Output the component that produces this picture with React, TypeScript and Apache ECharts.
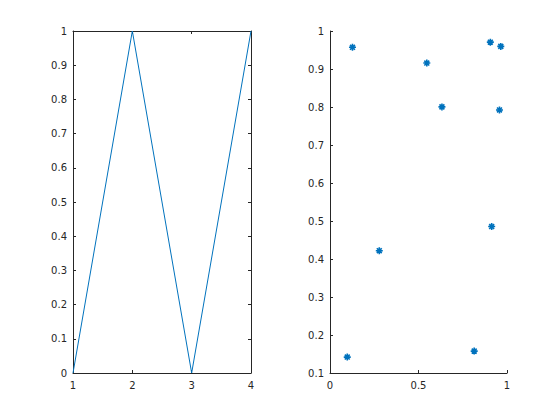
import React, { useEffect, useRef } from "react";
import * as echarts from "echarts";

const lineX = [1, 2, 3, 4];
const lineY = [0, 1, 0, 1];
const scatterX = [0.8147, 0.9058, 0.127, 0.9134, 0.6324, 0.0975, 0.2785, 0.5469, 0.9575, 0.9649];
const scatterY = [0.1576, 0.9706, 0.9572, 0.4854, 0.8003, 0.1419, 0.4218, 0.9157, 0.7922, 0.9595];

const AX = "#262626";
const BLUE = "#0072BD";
const FONT = "DejaVu Sans";

function axisBase(show: boolean, margin: number) {
  return {
    axisLine: { show: true, onZero: false, lineStyle: { color: AX, width: 1 } },
    axisTick: { show: true, inside: true, length: 3, lineStyle: { color: AX } },
    axisLabel: { show, color: AX, fontSize: 10, fontFamily: FONT, margin },
    splitLine: { show: false },
  };
}

export default function App() {
  const ref = useRef<HTMLDivElement>(null);
  useEffect(() => {
    if (!ref.current) return;
    const chart = echarts.init(ref.current, undefined, { renderer: "svg" });
    const star = "path://M0,-3L0,3M-3,0L3,0M-2.1,-2.1L2.1,2.1M-2.1,2.1L2.1,-2.1";
    chart.setOption({
      animation: false,
      backgroundColor: "#ffffff",
      textStyle: { fontFamily: FONT },
      grid: [
        { left: 73, right: 309, top: 31, bottom: 47 },
        { left: 330, right: 53, top: 31, bottom: 47 },
      ],
      xAxis: [
        { type: "value", gridIndex: 0, min: 1, max: 4, interval: 1, position: "bottom", ...axisBase(true, 7) },
        { type: "value", gridIndex: 0, min: 1, max: 4, interval: 1, position: "top", ...axisBase(false, 7) },
        { type: "value", gridIndex: 1, min: 0, max: 1, interval: 0.5, position: "bottom", ...axisBase(true, 7) },
      ],
      yAxis: [
        { type: "value", gridIndex: 0, min: 0, max: 1, interval: 0.1, position: "left", ...axisBase(true, 6) },
        { type: "value", gridIndex: 0, min: 0, max: 1, interval: 0.1, position: "right", ...axisBase(false, 6) },
        { type: "value", gridIndex: 1, min: 0.1, max: 1, interval: 0.1, position: "left", ...axisBase(true, 6) },
      ],
      series: [
        {
          type: "line",
          xAxisIndex: 0,
          yAxisIndex: 0,
          data: lineX.map((x, i) => [x, lineY[i]]),
          showSymbol: false,
          lineStyle: { color: BLUE, width: 1 },
        },
        {
          type: "scatter",
          xAxisIndex: 2,
          yAxisIndex: 2,
          data: scatterX.map((x, i) => [x, scatterY[i]]),
          symbol: star,
          symbolSize: 7,
          itemStyle: { color: BLUE, borderColor: BLUE, borderWidth: 1.6, opacity: 1 },
        },
      ],
    });
    return () => chart.dispose();
  }, []);
  return (
    <div
      ref={ref}
      style={{ position: "fixed", left: 0, top: 0, width: 560, height: 420, background: "#fff" }}
    />
  );
}
